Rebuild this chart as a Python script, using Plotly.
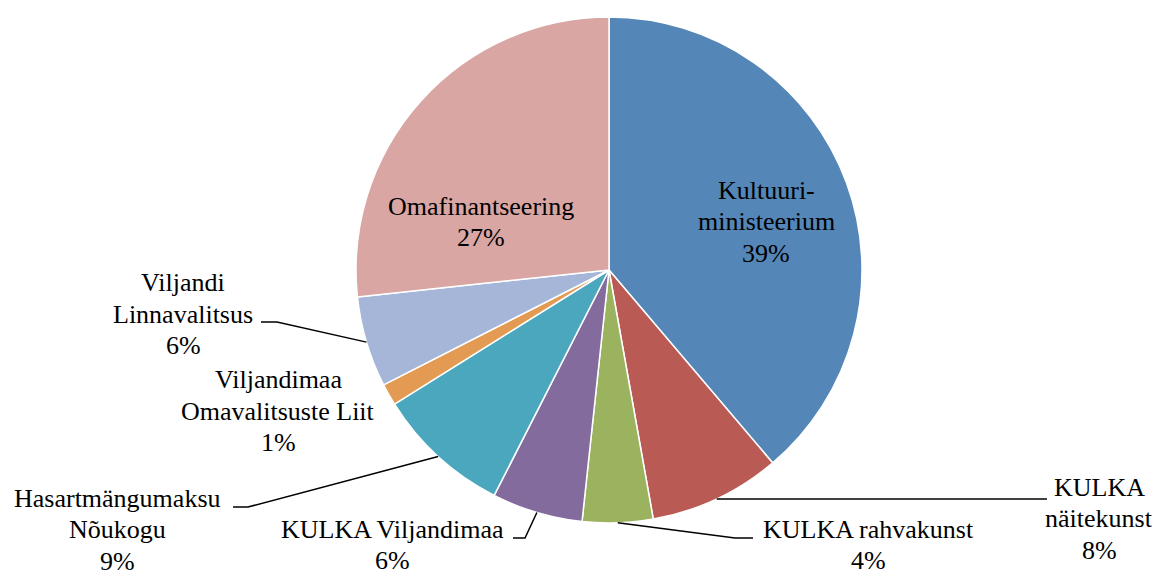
import math
import plotly.graph_objects as go

# ---- data ----
labels = ["Kultuuriministeerium", "KULKA näitekunst", "KULKA rahvakunst", "KULKA Viljandimaa",
          "Hasartmängumaksu Nõukogu", "Viljandimaa Omavalitsuste Liit", "Viljandi Linnavalitsus",
          "Omafinantseering"]
values = [38.8, 8.4, 4.5, 5.8, 8.6, 1.4, 5.8, 26.7]
label_lines = [["Kultuuri-", "ministeerium"], ["KULKA", "näitekunst"], ["KULKA rahvakunst"],
               ["KULKA Viljandimaa"], ["Hasartmängumaksu", "Nõukogu"],
               ["Viljandimaa", "Omavalitsuste Liit"], ["Viljandi", "Linnavalitsus"],
               ["Omafinantseering"]]
colors = ["#5486B8", "#BA5A54", "#9BB25F", "#836B9E", "#4BA7BD", "#E39A52", "#A5B6D8", "#D9A6A3"]

# ---- layout constants (pixels) ----
W, H = 1157, 572
CX, CY, R = 609, 270, 253
LINE_H = 31.5
FONT = dict(family="Liberation Serif", size=26, color="black")

# label block: (center x, y of first line center)
label_pos = [(766, 190), (1099, 487), (868, 529), (392, 529), (117, 498),
             (278, 379.5), (183, 282.5), (481, 206)]
# leader lines: bend points; ("A",) is the pie-edge anchor
leaders = {
    1: [("A",), (1047, None)],
    2: [("A",), (735, 538), (753, 538)],
    3: [(513, 538), (525, 538), ("A",)],
    4: [(233, 507), (248, 507), ("A",)],
    6: [(261, 322), (277, 322), ("A",)],
}

def px(x):
    return x / W

def py(y):
    return 1 - y / H

total = sum(values)
fig = go.Figure(go.Pie(
    labels=labels, values=values, sort=False, direction="clockwise", rotation=0,
    textinfo="none", hoverinfo="skip",
    marker=dict(colors=colors, line=dict(color="white", width=1.5)),
    domain=dict(x=[px(CX - R), px(CX + R)], y=[py(CY + R), py(CY - R)]),
    showlegend=False,
))

annotations = []
for i, (lines, (x0, y0)) in enumerate(zip(label_lines, label_pos)):
    pct = f"{round(values[i] / total * 100)}%"
    all_lines = lines + [pct]
    for k, t in enumerate(all_lines):
        annotations.append(dict(x=px(x0), y=py(y0 + k * LINE_H), xref="paper", yref="paper",
                                text=t, showarrow=False, font=FONT,
                                xanchor="center", yanchor="middle"))

# anchors on the pie edge from cumulative fractions
cum = 0
mids = []
for v in values:
    mids.append((cum + v / 2) / total)
    cum += v

shapes = []
for i, pts in leaders.items():
    ang = mids[i] * 2 * math.pi
    ax = CX + R * math.sin(ang)
    ay = CY - R * math.cos(ang)
    coords = []
    for p in pts:
        if p[0] == "A":
            coords.append((ax, ay))
        else:
            coords.append((p[0], ay if p[1] is None else p[1]))
    path = "M " + " L ".join(f"{px(x):.5f},{py(y):.5f}" for x, y in coords)
    shapes.append(dict(type="path", path=path, xref="paper", yref="paper",
                       line=dict(color="black", width=1.5)))

fig.update_layout(width=W, height=H, margin=dict(l=0, r=0, t=0, b=0),
                  paper_bgcolor="white", plot_bgcolor="white",
                  annotations=annotations, shapes=shapes)
fig.write_html("out.html", config={"displayModeBar": False},
               post_script="document.body.style.margin='0';document.body.style.overflow='hidden';")
